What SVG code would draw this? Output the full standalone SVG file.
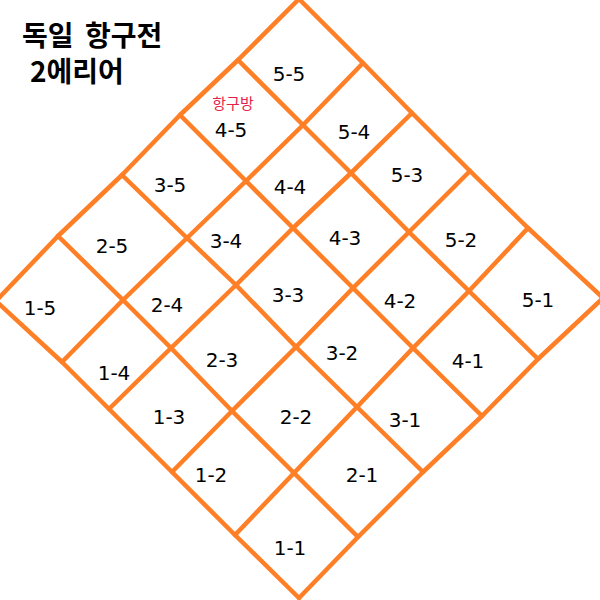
<svg xmlns="http://www.w3.org/2000/svg" width="600" height="600" viewBox="0 0 600 600">
<style>
.grid polyline{fill:none;stroke:#FF7F27;stroke-width:4.5;stroke-linejoin:round;stroke-linecap:round}
.lbl{font-family:"DejaVu Sans","Noto Sans",sans-serif;font-size:20px;fill:#000;text-anchor:middle}
.note{font-family:"Noto Sans CJK KR","Noto Sans",sans-serif;font-size:15px;fill:#E61E4B;text-anchor:middle}
.title{font-family:"Noto Sans CJK KR","Noto Sans",sans-serif;font-size:28px;font-weight:bold;fill:#000}
</style>
<rect width="600" height="600" fill="#fff"/>
<g id="title">
<text class="title" x="22" y="46" word-spacing="5">독일 항구전</text>
<text class="title" x="30" y="82">2에리어</text>
</g>
<g id="connectors" class="grid">
<polyline points="299,598 358,537 423,472 482,416 538,359 603,298"/>
<polyline points="235,535 294,473 357,407 413,348 469,291 528,228"/>
<polyline points="172,472 232,411 296,347 353,288 409,232 470,171"/>
<polyline points="109,409 171,348 236,285 293,228 351,173 412,113"/>
<polyline points="62,362 123,300 187,238 246,181 303,125 363,63"/>
<polyline points="-4,301 58,236 122,175 180,115 238,60 299,-1"/>
<polyline points="299,598 235,535 172,472 109,409 62,362 -4,301"/>
<polyline points="358,537 294,473 232,411 171,348 123,300 58,236"/>
<polyline points="423,472 357,407 296,347 236,285 187,238 122,175"/>
<polyline points="482,416 413,348 353,288 293,228 246,181 180,115"/>
<polyline points="538,359 469,291 409,232 351,173 303,125 238,60"/>
<polyline points="603,298 528,228 470,171 412,113 363,63 299,-1"/>
</g>
<g id="cell-5-5"><text class="lbl" x="289" y="81">5-5</text></g>
<g id="cell-4-5"><text class="note" x="233" y="109">항구방</text><text class="lbl" x="231" y="137">4-5</text></g>
<g id="cell-5-4"><text class="lbl" x="354" y="139">5-4</text></g>
<g id="cell-3-5"><text class="lbl" x="170" y="192">3-5</text></g>
<g id="cell-4-4"><text class="lbl" x="290" y="194">4-4</text></g>
<g id="cell-5-3"><text class="lbl" x="407" y="182">5-3</text></g>
<g id="cell-2-5"><text class="lbl" x="112" y="253">2-5</text></g>
<g id="cell-3-4"><text class="lbl" x="226" y="248">3-4</text></g>
<g id="cell-4-3"><text class="lbl" x="345" y="245">4-3</text></g>
<g id="cell-5-2"><text class="lbl" x="461" y="247">5-2</text></g>
<g id="cell-1-5"><text class="lbl" x="40" y="315">1-5</text></g>
<g id="cell-2-4"><text class="lbl" x="167" y="312">2-4</text></g>
<g id="cell-3-3"><text class="lbl" x="288" y="302">3-3</text></g>
<g id="cell-4-2"><text class="lbl" x="400" y="308">4-2</text></g>
<g id="cell-5-1"><text class="lbl" x="538" y="307">5-1</text></g>
<g id="cell-1-4"><text class="lbl" x="114" y="380">1-4</text></g>
<g id="cell-2-3"><text class="lbl" x="222" y="367">2-3</text></g>
<g id="cell-3-2"><text class="lbl" x="342" y="360">3-2</text></g>
<g id="cell-4-1"><text class="lbl" x="468" y="368">4-1</text></g>
<g id="cell-1-3"><text class="lbl" x="169" y="424">1-3</text></g>
<g id="cell-2-2"><text class="lbl" x="296" y="424">2-2</text></g>
<g id="cell-3-1"><text class="lbl" x="405" y="427">3-1</text></g>
<g id="cell-1-2"><text class="lbl" x="211" y="482">1-2</text></g>
<g id="cell-2-1"><text class="lbl" x="362" y="482">2-1</text></g>
<g id="cell-1-1"><text class="lbl" x="290" y="555">1-1</text></g>
</svg>
